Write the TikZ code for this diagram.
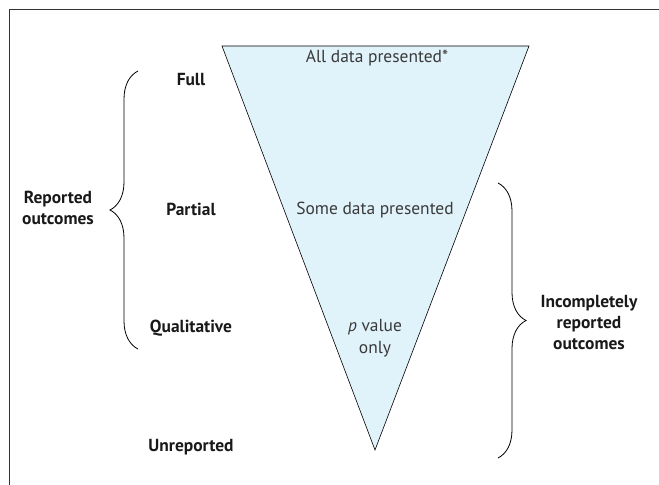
\documentclass[tikz,border=0pt]{standalone}
\usepackage{fontspec}
\setmainfont{PT Sans}
\usepackage{xcolor}
\usetikzlibrary{decorations.pathreplacing}
\definecolor{funnelblue}{HTML}{E0F2FA}
\definecolor{framegray}{HTML}{333333}
\definecolor{textgray}{HTML}{3A3A3A}
\tikzset{
    level/.style={font=\fontsize{17.5}{21}\selectfont\bfseries, text=black!90, inner sep=0pt},
    inside/.style={font=\fontsize{17.5}{22}\selectfont, text=textgray, inner sep=0pt},
    bracket/.style={decorate, decoration={brace, amplitude=#1}, line width=0.8bp}
}
\begin{document}
\begin{tikzpicture}[x=1bp, y=-1bp]
                        \useasboundingbox (0,0) rectangle (659,485);
                        \draw[line width=1.3bp, framegray] (659,9.5) -- (9.5,9.5) -- (9.5,485);

                        % the funnel
                        \coordinate (tl) at (222,46);
                        \coordinate (tr) at (529,46);
                        \coordinate (apex) at (375,450);
                        \draw[fill=funnelblue, line width=0.6bp] (tl) -- (tr) -- (apex) -- cycle;

                        \node (all) at (377,58) [inside] {All data presented*};
                        \node (some) at (375,210) [inside] {Some data presented};
                        \node (pval) at (375,338) [inside] {
                            \begin{tabular}{c}
                                \textit{p} value
                                \\
                                only
                            \end{tabular}
                        };

                        % levels
                        \node (full) at (191,80) [level] {Full};
                        \node (partial) at (191,209) [level] {Partial};
                        \node (qual) at (191,328) [level] {Qualitative};
                        \node (unrep) at (191,447) [level] {Unreported};

                        % braces
                        \coordinate (lbot) at (138,349);
                        \coordinate (ltop) at (138,71);
                        \draw[bracket=28bp] (lbot) -- (ltop);
                        \coordinate (rtop) at (498,183);
                        \coordinate (rbot) at (498,458);
                        \draw[bracket=28bp] (rtop) -- (rbot);

                        \node (reported) at (58,210) [level] {
                            \begin{tabular}{c}
                                Reported
                                \\
                                outcomes
                            \end{tabular}
                        };

                        \node (incomplete) at (589,324) [level] {
                            \begin{tabular}{c}
                                Incompletely
                                \\
                                reported
                                \\
                                outcomes
                            \end{tabular}
                        };
                    \end{tikzpicture}
\end{document}
